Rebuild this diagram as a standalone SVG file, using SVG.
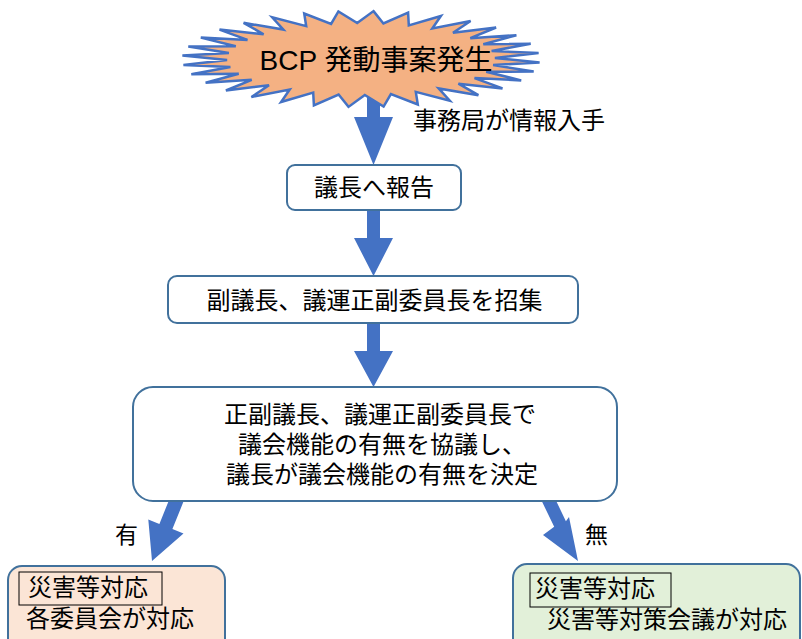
<svg xmlns="http://www.w3.org/2000/svg" width="802" height="639" viewBox="0 0 802 639">
<style>
text{font-family:"Liberation Sans","Noto Sans CJK JP",sans-serif;font-size:24px;fill:#000}
.box{fill:#fff;stroke:#41719C;stroke-width:2}
.arrow{fill:#4472C4;stroke:none}
.tag{fill:none;stroke:#000;stroke-width:1}
.mid{text-anchor:middle}
</style>
<rect width="802" height="639" fill="#fff"/>
<g id="connectors">
<polygon class="arrow" points="367,95 380,95 380,117 393,117 373.5,165 354,117 367,117"/>
<polygon class="arrow" points="367,210 380,210 380,238 393,238 373.5,276 354,238 367,238"/>
<polygon class="arrow" points="367,323 380,323 380,351 393,351 373.5,387 354,351 367,351"/>
<polygon class="arrow" points="170.5,496.4 183.5,501.6 172.4,529.1 183.5,533.6 152,561 148.3,519.4 159.4,523.9"/>
<polygon class="arrow" points="542.1,501.8 553.9,496.2 565.9,521.2 569,517 578,561 543,535 554.2,526.8"/>
<text x="413" y="129">事務局が情報入手</text>
<text x="115" y="543" style="font-size:23px">有</text>
<text x="585" y="543" style="font-size:23px">無</text>
</g>
<g id="start">
<polygon fill="#F4B183" stroke="#4472C4" stroke-width="2.5" stroke-linejoin="miter" points="373.5,11.1 383.4,23.5 408.1,12.7 408.8,25.4 440.9,16 432.3,28.5 470.6,21 453,32.8 496.1,27.5 470.3,38.2 516.4,35.2 483.3,44.3 530.7,43.8 491.6,51 538.6,52.9 494.9,58 539.6,62.4 493.1,65 533.7,71.6 486.2,71.8 521.2,80.4 474.5,78.1 502.5,88.4 458.4,83.7 478.4,95.2 438.6,88.4 449.8,100.7 415.8,91.9 417.8,104.5 390.9,94.1 383.6,106.6 364.8,95 348.5,106.9 338.6,94.5 313.9,105.3 313.2,92.6 281.1,102 289.7,89.5 251.4,97 269,85.2 225.9,90.5 251.7,79.8 205.6,82.8 238.7,73.7 191.3,74.2 230.4,67 183.4,65.1 227.1,60 182.4,55.6 228.9,53 188.3,46.4 235.8,46.2 200.8,37.6 247.5,39.9 219.5,29.6 263.6,34.3 243.6,22.8 283.4,29.6 272.2,17.3 306.2,26.1 304.2,13.5 331.1,23.9 338.4,11.4 357.2,23"/>
<text x="376" y="70" class="mid" style="font-size:28px">BCP 発動事案発生</text>
</g>
<g id="report">
<rect class="box" x="287" y="165" width="174" height="45" rx="8"/>
<text x="374" y="196" class="mid">議長へ報告</text>
</g>
<g id="convene">
<rect class="box" x="168" y="276" width="410" height="47" rx="9"/>
<text x="374.5" y="309" class="mid">副議長、議運正副委員長を招集</text>
</g>
<g id="decide">
<rect class="box" x="133" y="387" width="484" height="114" rx="20"/>
<text x="380" y="423" class="mid">正副議長、議運正副委員長で</text>
<text x="382" y="453" class="mid">議会機能の有無を協議し、</text>
<text x="382" y="483" class="mid">議長が議会機能の有無を決定</text>
</g>
<g id="committee">
<rect x="8" y="566" width="217" height="90" rx="14" fill="#FBE5D6" stroke="#41719C" stroke-width="2"/>
<rect class="tag" x="19" y="572" width="143" height="33"/>
<text x="28" y="596">災害等対応</text>
<text x="26" y="627">各委員会が対応</text>
</g>
<g id="council">
<rect x="513" y="564" width="287" height="90" rx="14" fill="#E2F0D9" stroke="#41719C" stroke-width="2"/>
<rect class="tag" x="530" y="573" width="141" height="34"/>
<text x="535" y="597">災害等対応</text>
<text x="547" y="628">災害等対策会議が対応</text>
</g>
</svg>
